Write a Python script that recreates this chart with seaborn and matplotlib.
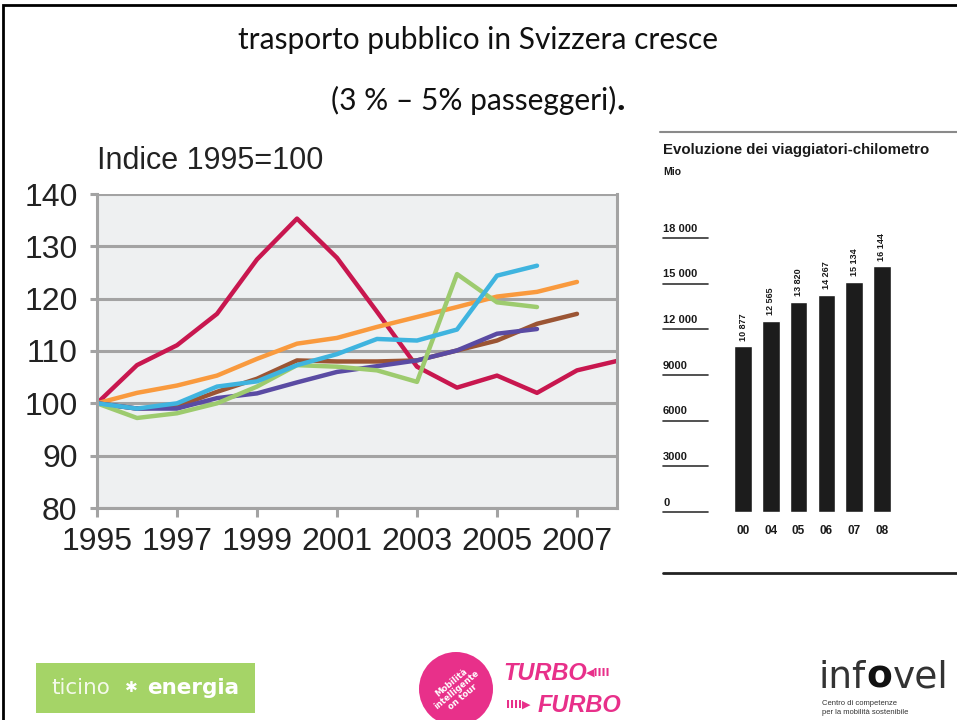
import matplotlib
matplotlib.use('Agg')
import matplotlib.pyplot as plt
import seaborn as sns
import pandas as pd
from matplotlib.patches import Rectangle, Ellipse

# Index 1995 = 100, six series
anni = list(range(1995, 2009))
serie_rossa = [100, 107.3, 111.1, 117.1, 127.5, 135.3, 127.8, 117.5, 107.0, 103.0, 105.3, 102.0, 106.3, 108.1]
serie_arancio = [100, 102.0, 103.4, 105.3, 108.5, 111.4, 112.5, 114.6, 116.5, 118.4, 120.4, 121.3, 123.2]
serie_marrone = [100, 99.0, 99.4, 102.2, 104.7, 108.2, 108.0, 108.0, 108.2, 110.1, 112.0, 115.2, 117.1]
serie_viola = [100, 99.0, 99.0, 101.0, 101.9, 104.0, 106.0, 107.1, 108.2, 110.1, 113.3, 114.2]
serie_verde = [100, 97.2, 98.1, 100.0, 103.2, 107.3, 107.0, 106.3, 104.1, 124.7, 119.3, 118.4]
serie_azzurra = [100, 99.0, 100.0, 103.2, 104.2, 107.3, 109.4, 112.3, 112.0, 114.1, 124.4, 126.3]

nomi_serie = ['rossa', 'arancio', 'marrone', 'viola', 'verde', 'azzurra']
colori_serie = ['#c8174f', '#f99a3e', '#9b5534', '#5a4ba3', '#9dcb6e', '#3fb4df']

# Passenger-km (Mio)
anni_bar = ['00', '04', '05', '06', '07', '08']
viaggiatori_km = [10877, 12565, 13820, 14267, 15134, 16144]
tick_bar = [0, 3000, 6000, 9000, 12000, 15000, 18000]
tick_bar_lab = ['0', '3000', '6000', '9000', '12 000', '15 000', '18 000']

W, H = 957, 720


def fx(x):
    return x / W


def fy(y):
    return 1 - y / H


righe = []
for nome, valori in zip(nomi_serie, [serie_rossa, serie_arancio, serie_marrone,
                                      serie_viola, serie_verde, serie_azzurra]):
    for a, v in zip(anni, valori):
        righe.append({'anno': a, 'indice': v, 'serie': nome})
df = pd.DataFrame(righe)

sns.set_theme(style='white')
plt.rcParams['font.family'] = ['Liberation Sans', 'DejaVu Sans']

fig = plt.figure(figsize=(W / 100, H / 100), dpi=100)
fig.patch.set_facecolor('white')
renderer = fig.canvas.get_renderer()
inv = fig.transFigure.inverted()

# slide border (top and left)
fig.add_artist(Rectangle((fx(3), -0.05), 1.2, fy(5) + 0.05, transform=fig.transFigure,
                         fill=False, edgecolor='black', linewidth=2))

# title
titolo_font = ['Lato', 'DejaVu Sans']
fig.text(0.5, fy(40), 'trasporto pubblico in Svizzera cresce', ha='center', va='center',
         fontsize=21.5, family=titolo_font, color='#111111')
t2 = fig.text(0, fy(100), '(3 % – 5% passeggeri)', ha='left', va='center',
              fontsize=21.5, family=titolo_font, color='#111111')
w2 = t2.get_window_extent(renderer).width
x0 = 478 - (w2 + 8) / 2
t2.set_x(fx(x0))
fig.text(fx(x0 + w2), fy(100), '.', ha='left', va='center',
         fontsize=26, family=titolo_font, fontweight='bold', color='#111111')

# ---- left chart: index lines
grigio = '#a3a3a3'
ax = fig.add_axes([fx(97), fy(508), fx(617) - fx(97), fy(194) - fy(508)])
ax.set_facecolor('#eef0f1')
order = ['rossa', 'arancio', 'marrone', 'viola', 'verde', 'azzurra']
pal = dict(zip(nomi_serie, colori_serie))
sns.lineplot(data=df, x='anno', y='indice', hue='serie', hue_order=order,
             palette=pal, linewidth=3.2, legend=False, ax=ax)
ax.set_xlim(1995, 2008)
ax.set_ylim(80, 140)
ax.set_yticks(range(80, 141, 10))
ax.set_xticks(range(1995, 2008, 2))
ax.yaxis.grid(True, color=grigio, linewidth=2.2)
ax.xaxis.grid(False)
ax.set_axisbelow(True)
for s in ['left', 'right', 'bottom']:
    ax.spines[s].set_visible(True)
    ax.spines[s].set_color(grigio)
    ax.spines[s].set_linewidth(2.2)
ax.spines['top'].set_visible(False)
ax.tick_params(axis='y', length=5, width=2.2, color=grigio, pad=9,
               labelsize=23, labelcolor='#222222', left=True)
ax.tick_params(axis='x', length=6.5, width=2.2, color=grigio, pad=7,
               labelsize=23, labelcolor='#222222', bottom=True)
ax.set_xlabel('')
ax.set_ylabel('')
fig.text(fx(97), fy(161), 'Indice 1995=100', ha='left', va='center',
         fontsize=22, color='#222222')

# ---- right chart: passenger-km bars
fig.add_artist(plt.Line2D([fx(660), 1], [fy(132), fy(132)], transform=fig.transFigure,
                          color='#8a8a8a', linewidth=1.5))
fig.add_artist(plt.Line2D([fx(663), 1], [fy(573), fy(573)], transform=fig.transFigure,
                          color='#222222', linewidth=2))
fig.text(fx(663), fy(150), 'Evoluzione dei viaggiatori-chilometro', ha='left', va='center',
         fontsize=10.8, fontweight='bold', color='#1a1a1a')
fig.text(fx(663), fy(172), 'Mio', ha='left', va='center',
         fontsize=7.5, fontweight='bold', color='#1a1a1a')

ax2 = fig.add_axes([fx(663), fy(512), 1 - fx(663), fy(238) - fy(512)])
sns.barplot(x=anni_bar, y=viaggiatori_km, color='#1c1c1c', width=0.64,
            saturation=1, ax=ax2)
ax2.set_xlim(-2.88, 7.7)
ax2.set_ylim(0, 18000)
ax2.set_facecolor('none')
for s in ax2.spines.values():
    s.set_visible(False)
ax2.set_yticks([])
ax2.tick_params(axis='x', length=0, pad=9, labelsize=8.5, labelcolor='#1a1a1a')
for t in ax2.get_xticklabels():
    t.set_fontweight('bold')
for v, lab in zip(tick_bar, tick_bar_lab):
    ax2.axhline(v, xmin=0, xmax=45 / 294, color='#333333', linewidth=1.2, clip_on=False)
    ax2.annotate(lab, xy=(0, v), xycoords=('axes fraction', 'data'), xytext=(0, 3),
                 textcoords='offset points', ha='left', va='bottom', fontsize=8,
                 fontweight='bold', color='#1a1a1a')
etichette = [f'{v:,}'.replace(',', ' ') for v in viaggiatori_km]
ax2.bar_label(ax2.containers[0], labels=etichette, rotation=90, padding=4,
              fontsize=6.5, fontweight='bold', color='#1a1a1a')
ax2.set_xlabel('')
ax2.set_ylabel('')

# ---- logos (approximate)
fig.add_artist(Rectangle((fx(36), fy(713)), fx(255) - fx(36), fy(663) - fy(713),
                         transform=fig.transFigure, facecolor='#a5d467', edgecolor='none'))
fig.text(fx(51), fy(688), 'ticino', ha='left', va='center', fontsize=15.5,
         color='#f4f9ea', family=['DejaVu Sans'])
fig.text(fx(131), fy(688), '✱', ha='center', va='center', fontsize=11,
         color='white', family=['DejaVu Sans'])
fig.text(fx(147), fy(688), 'energia', ha='left', va='center', fontsize=15.5,
         color='white', family=['DejaVu Sans'], fontweight='bold')

rosa = '#e8308a'
fig.add_artist(Ellipse((fx(456), fy(689)), 2 * 37 / W, 2 * 37 / H, transform=fig.transFigure,
                       facecolor=rosa, edgecolor='none'))
fig.text(fx(457), fy(690), 'Mobilità\nintelligente\non tour', ha='center', va='center',
         fontsize=6, color='white', fontweight='bold', rotation=40, linespacing=1.0,
         family=['DejaVu Sans'])
fig.text(fx(503), fy(673), 'TURBO', ha='left', va='center', fontsize=17,
         color=rosa, fontweight='bold', style='italic')
fig.text(fx(586), fy(673), '◀IIII', ha='left', va='center', fontsize=8,
         color=rosa, fontweight='bold', family=['DejaVu Sans'])
fig.text(fx(506), fy(705), 'IIII▶', ha='left', va='center', fontsize=8,
         color=rosa, fontweight='bold', family=['DejaVu Sans'])
fig.text(fx(538), fy(705), 'FURBO', ha='left', va='center', fontsize=17,
         color=rosa, fontweight='bold', style='italic')

# infovel wordmark, pieces placed one after the other
x_cur = fx(818)
for pezzo, peso, col in [('inf', 'normal', '#333333'), ('o', 'bold', '#111111'),
                         ('vel', 'normal', '#333333')]:
    t = fig.text(x_cur, fy(688), pezzo, ha='left', va='baseline', fontsize=27,
                 color=col, fontweight=peso, family=['DejaVu Sans'])
    bb = t.get_window_extent(renderer)
    x_cur = inv.transform((bb.x1 + 1, 0))[0]
fig.text(fx(822), fy(708), 'Centro di competenze\nper la mobilità sostenibile', ha='left',
         va='center', fontsize=5.5, color='#333333', linespacing=1.3)

fig.savefig('out.png', dpi=100, facecolor='white')
